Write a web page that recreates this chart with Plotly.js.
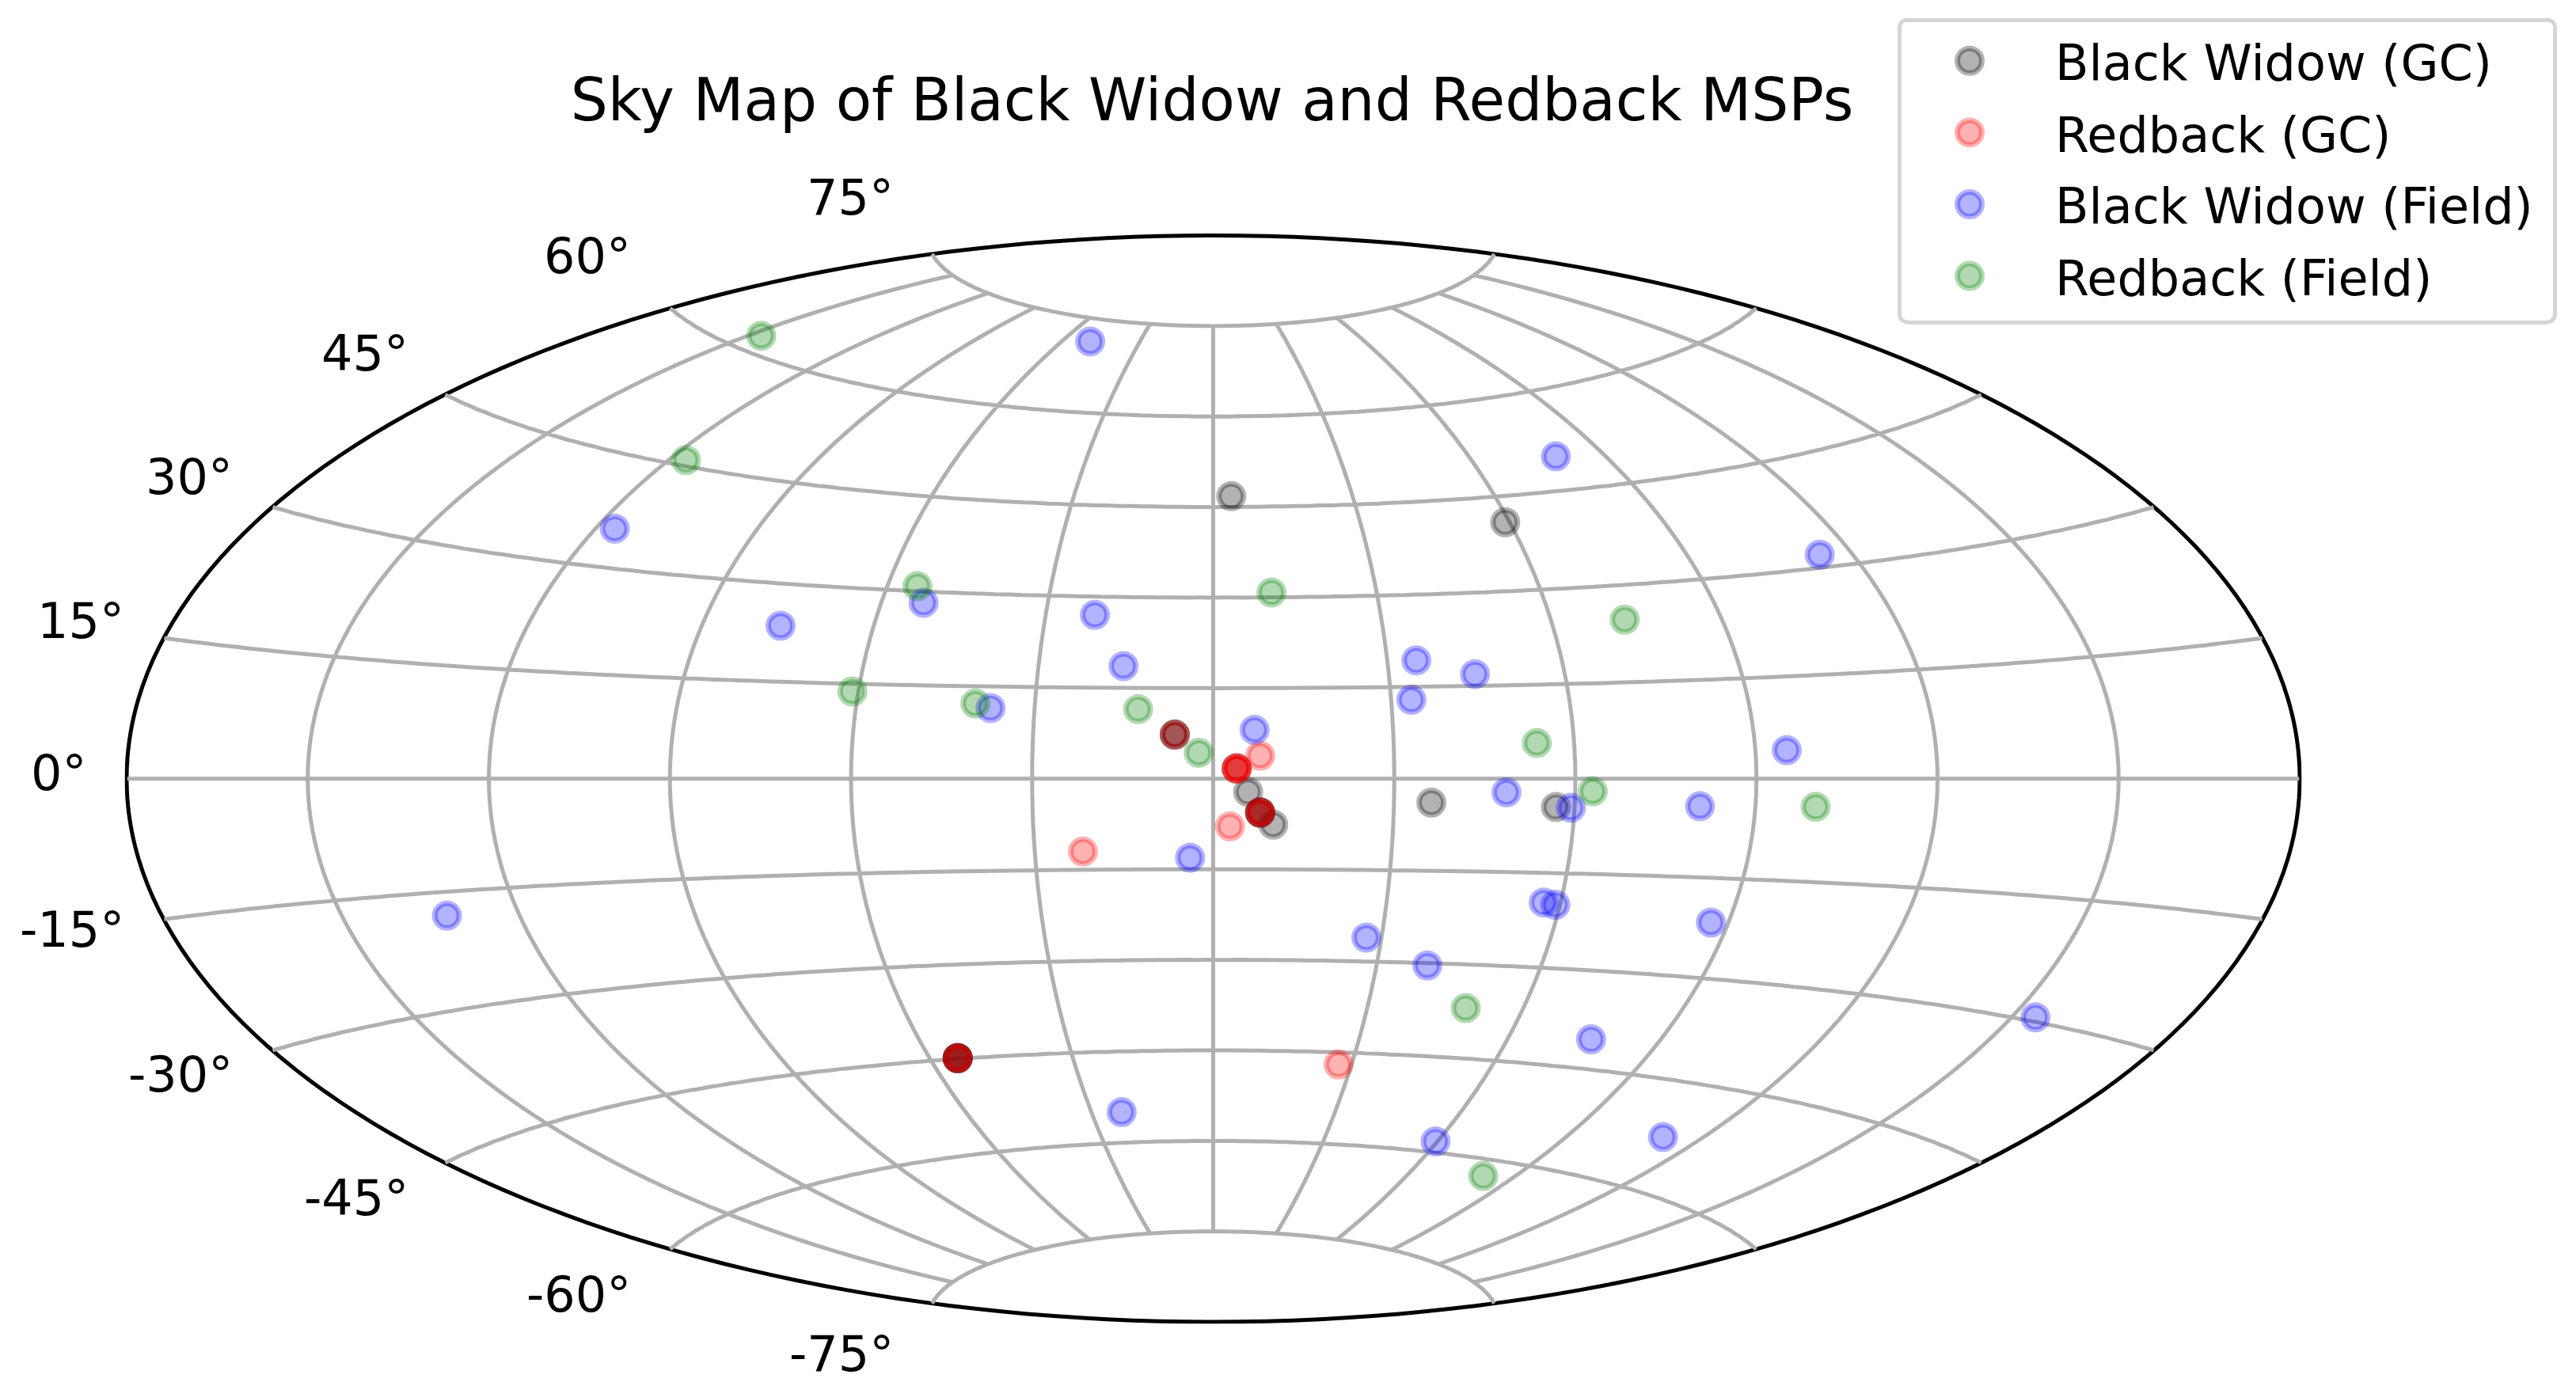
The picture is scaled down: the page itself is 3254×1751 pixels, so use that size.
<!DOCTYPE html>
<html><head><meta charset="utf-8"><script src="https://cdn.plot.ly/plotly-3.0.1.min.js"></script>
<style>html,body{margin:0;padding:0;background:#fff}#chart{width:3254px;height:1751px}</style></head>
<body><div id="chart"></div>
<script>
// Values (longitude, latitude in degrees)
const seriesNames = ['Black Widow (GC)', 'Redback (GC)', 'Black Widow (Field)', 'Redback (Field)'];
const bwGcLon = [3.9, 59.1, 5.8, 10.0, 36.2, 56.9, 3.9, 7.8, 7.8, 7.8, -6.4, -6.4, -54.2, -54.2, -54.2, -54.2];
const bwGcLat = [46.8, 40.9, -2.2, -7.6, -3.9, -4.5, 1.7, -5.6, -5.6, -5.6, 7.3, 7.3, -44.9, -44.9, -44.9, -44.9];
const rbGcLon = [7.8, 2.8, -21.9, 27.2, 3.9, 3.9, 3.9, 7.8, 7.8, -6.4, -54.2, -54.2];
const rbGcLat = [3.8, -7.9, -12.0, -47.0, 1.7, 1.7, 1.7, -5.6, -5.6, 7.3, -44.9, -44.9];
const bwFieldLon = [-49.4, 79.3, 114.1, -116.5, -76.3, -52.4, -21.2, -15.4, -37.4, 35.0, 44.7, 33.4, 6.9, 95.2, 48.6, 59.4, 80.8, -3.9, 57.1, 59.2, 87.0, -132.3, 27.3, 39.3, 154.1, 76.5, -22.6, 59.5, 111.5];
const bwFieldLat = [71.4, 50.2, 31.8, 35.4, 23.6, 28.2, 27.0, 18.6, 11.5, 19.3, 16.9, 12.9, 8.1, 4.2, -2.2, -4.6, -4.2, -13.1, -19.7, -20.0, -21.7, -18.1, -26.1, -30.4, -29.5, -40.5, -55.0, -58.3, -52.8];
const rbFieldLon = [-147.2, -116.6, -54.5, 10.7, 73.0, -61.0, -40.0, -12.6, -2.4, 53.8, 62.9, 100.0, 49.0, 81.5];
const rbFieldLat = [62.0, 45.8, 30.8, 30.8, 24.7, 13.8, 12.2, 11.5, 4.3, 5.7, -2.0, -4.1, -37.0, -62.5];
const lonGrid = [-150, -120, -90, -60, -30, 0, 30, 60, 90, 120, 150];
const latGrid = [-75, -60, -45, -30, -15, 0, 15, 30, 45, 60, 75];
const latLabels = ['-75°', '-60°', '-45°', '-30°', '-15°', '0°', '15°', '30°', '45°', '60°', '75°'];
const titleText = 'Sky Map of Black Widow and Redback MSPs';

const W = 3254, H = 1751, FONT = 'DejaVu Sans, sans-serif';
const labelRight = [1131, 799, 518, 296, 159, 111, 159, 296, 518, 799, 1131];
const labelMid = [1710, 1635, 1513, 1357, 1174, 977, 784, 602, 446, 324, 249];

const gLon = [], gLat = [];
for (const lo of lonGrid) { for (let p = -75; p <= 75; p += 5) { gLon.push(lo); gLat.push(p); } gLon.push(null); gLat.push(null); }
for (const la of latGrid) { for (let l = -179.9; l <= 179.95; l += 4.99722) { gLon.push(l); gLat.push(la); } gLon.push(null); gLat.push(null); }

function pts(name, lon, lat, rgb) {
  const c = 'rgba(' + rgb + ',0.3)';
  return { type: 'scattergeo', mode: 'markers', name, lon, lat, legendgroup: name,
    marker: { size: 31, color: c, line: { color: c, width: 7 } }, geo: 'geo' };
}
const data = [
  { type: 'scattergeo', mode: 'lines', lon: gLon, lat: gLat, showlegend: false, hoverinfo: 'skip',
    line: { color: '#b0b0b0', width: 5 } },
  pts(seriesNames[0], bwGcLon, bwGcLat, '0,0,0'),
  pts(seriesNames[1], rbGcLon, rbGcLat, '255,0,0'),
  pts(seriesNames[2], bwFieldLon, bwFieldLat, '0,0,255'),
  pts(seriesNames[3], rbFieldLon, rbFieldLat, '0,128,0')
];
const layout = {
  width: W, height: H, margin: { l: 0, r: 0, t: 0, b: 0 }, paper_bgcolor: '#fff', showlegend: true,
  font: { family: FONT, color: '#000', size: 62 },
  title: { text: titleText, font: { family: FONT, size: 74.2, color: '#000' }, x: 1531 / W, xanchor: 'center', y: 1 - 126 / H, yanchor: 'middle' },
  geo: {
    domain: { x: [160 / W, 2905 / W], y: [1 - 1670 / H, 1 - 297.5 / H] },
    projection: { type: 'aitoff' }, bgcolor: '#fff', showframe: true, framecolor: '#000', framewidth: 5,
    showland: false, showocean: false, showlakes: false, showrivers: false, showcountries: false, showcoastlines: false,
    lonaxis: { showgrid: false, range: [-180, 180] }, lataxis: { showgrid: false, range: [-90, 90] }
  },
  legend: { x: 2397 / W, y: 1 - 25 / H, xanchor: 'left', yanchor: 'top', bgcolor: 'rgba(0,0,0,0)', bordercolor: '#d5d5d5', borderwidth: 5,
    font: { family: FONT, size: 62, color: '#000' }, itemwidth: 184, entrywidth: 625, entrywidthmode: 'pixels', tracegroupgap: 7, traceorder: 'grouped', itemclick: false },
  annotations: latLabels.map((t, i) => ({ text: t, xref: 'paper', yref: 'paper', x: labelRight[i] / W, y: 1 - labelMid[i] / H,
    xanchor: 'right', yanchor: 'middle', showarrow: false, font: { family: FONT, size: 62, color: '#000' } }))
};
window.PlotlyGeoAssets = window.PlotlyGeoAssets || { topojson: {} };
window.PlotlyGeoAssets.topojson.world_110m = window.PlotlyGeoAssets.topojson.world_110m || { type: 'Topology', objects: {}, arcs: [] };
Plotly.newPlot('chart', data, layout, { displayModeBar: false }).then(() => {
  const r = 15.5;
  document.querySelectorAll('.legend .legendpoints path').forEach(p => {
    p.setAttribute('d', 'M' + r + ',0A' + r + ',' + r + ' 0 1,1 0,-' + r + 'A' + r + ',' + r + ' 0 0,1 ' + r + ',0Z');
    p.style.strokeWidth = '7px';
    const m = /translate\(([-\d.]+)[ ,]*([-\d.]*)/.exec(p.getAttribute('transform') || '');
    const tx = m ? parseFloat(m[1]) : 0;
    p.setAttribute('transform', 'translate(' + (tx - 11) + ',0)');
  });
  const bg = document.querySelector('.legend rect.bg');
  if (bg) {
    bg.setAttribute('rx', 10); bg.setAttribute('ry', 10);
    bg.setAttribute('y', 0); bg.setAttribute('width', 828); bg.setAttribute('height', 382);
  }
});
</script></body></html>
